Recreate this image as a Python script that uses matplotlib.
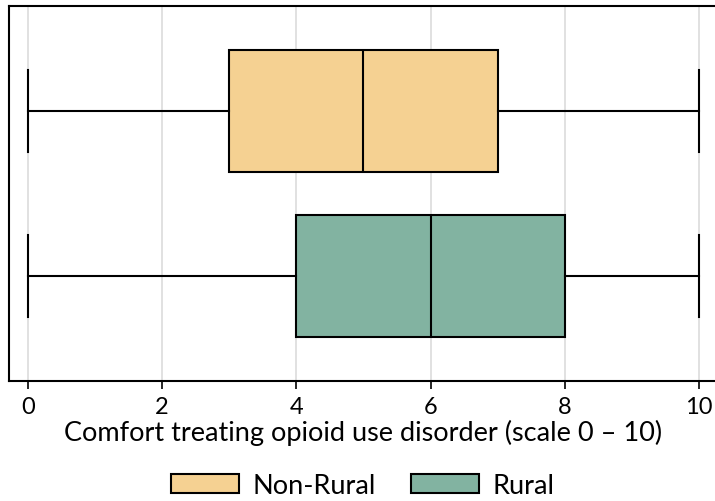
import matplotlib.pyplot as plt

groups = ['Rural', 'Non-Rural']
whis_lo = [0, 0]
q1 = [4, 3]
median = [6, 5]
q3 = [8, 7]
whis_hi = [10, 10]
colors = ['#82B3A1', '#F5D192']
xticks = [0, 2, 4, 6, 8, 10]

plt.rcParams['font.family'] = ['Lato', 'DejaVu Sans']

fig = plt.figure(figsize=(7.15, 5.02), dpi=100)
ax = fig.add_axes([9/715, 1 - 382/502, 708/715, 375/502])

stats = []
for i in range(len(groups)):
    stats.append({'label': groups[i], 'whislo': whis_lo[i], 'q1': q1[i],
                  'med': median[i], 'q3': q3[i], 'whishi': whis_hi[i]})

bp = ax.bxp(stats, positions=[1, 2], widths=0.74, vert=False, patch_artist=True,
            showfliers=False, capwidths=0.5,
            boxprops=dict(edgecolor='black', linewidth=1.5),
            medianprops=dict(color='black', linewidth=1.5),
            whiskerprops=dict(color='black', linewidth=1.5),
            capprops=dict(color='black', linewidth=1.5))
for patch, c in zip(bp['boxes'], colors):
    patch.set_facecolor(c)

ax.set_ylim(0.364, 2.636)
ax.set_xlim(-0.283, 10.27)
ax.set_xticks(xticks)
ax.set_yticks([])
ax.grid(axis='x', color='#dcdcdc', linewidth=1.2)
ax.set_axisbelow(True)
for s in ax.spines.values():
    s.set_linewidth(1.5)
ax.tick_params(axis='x', length=6, width=1.2, labelsize=17, pad=5)
ax.set_xlabel('Comfort treating opioid use disorder (scale 0 – 10)', fontsize=19.5, labelpad=1)

handles = [bp['boxes'][1], bp['boxes'][0]]
fig.legend(handles, ['Non-Rural', 'Rural'], loc='upper center', bbox_to_anchor=(363/715, 1 - 474/502),
           ncol=2, frameon=False, fontsize=19.5, handlelength=2.5, handleheight=0.66,
           columnspacing=1.3, handletextpad=0.5, borderpad=0, borderaxespad=0)

fig.savefig('out.png', dpi=100)
